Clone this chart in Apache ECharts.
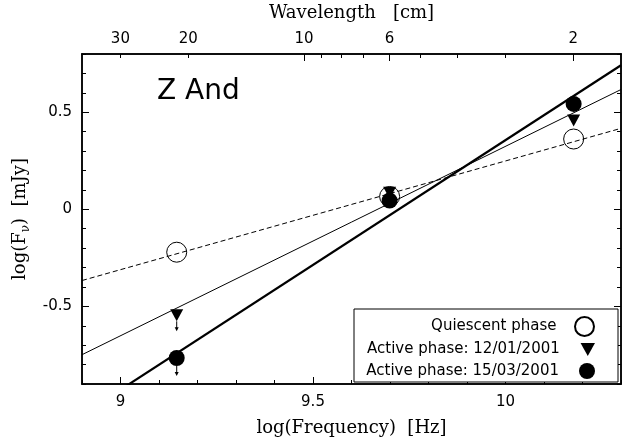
<!DOCTYPE html>
<html>
<head>
<meta charset="utf-8">
<script src="https://cdn.jsdelivr.net/npm/echarts@6/dist/echarts.min.js"></script>
<style>
html, body { margin: 0; padding: 0; background: #ffffff; }
#sed { width: 630px; height: 443px; }
</style>
</head>
<body>
<div id="sed"></div>
<script>
// log(frequency) of the three radio bands
var logFreq = [9.146, 9.699, 10.177]
// log flux for each phase
var quiescent = [-0.221, 0.066, 0.362]
var active1 = [-0.546, 0.085, 0.458]
var active2 = [-0.766, 0.045, 0.543]
// first point of the active phases is an upper limit
var limitIndex = [0]
// fitted power laws, values at both ends of the x range
var fitX = [8.9, 10.3]
var quiescentFit = [-0.367, 0.417]
var active1Fit = [-0.749, 0.617]
var active2Fit = [-1.058, 0.742]
// tick labels
var freqLabels = [9, 9.5, 10]
var fluxLabels = [-0.5, 0, 0.5]
var waveLabels = [30, 20, 10, 6, 2]
var waveMajor = [10, 6, 2]
var waveMinor = [30, 20, 9, 8, 7, 5, 4, 3]

// wavelength in cm -> log(frequency in Hz)
var C_LIGHT = 2.998e10
function waveToLogFreq(cm) {
  return Math.log10(C_LIGHT / cm)
}
function pairs(xs, ys) {
  return xs.map(function (x, i) { return [x, ys[i]] })
}

var SANS = 'DejaVu Sans'
var SERIF = 'DejaVu Serif'
var frame = { show: true, onZero: false, lineStyle: { color: '#000', width: 1.5 } }

var myChart = echarts.init(document.getElementById('sed'))

// small down arrows under the upper limits
function limitArrow(startOffset) {
  return function (params, api) {
    var p = api.coord([api.value(0), api.value(1)])
    var y0 = p[1] + startOffset
    var y1 = y0 + 9
    return {
      type: 'group',
      children: [
        { type: 'line', shape: { x1: p[0], y1: y0, x2: p[0], y2: y1 - 2 }, style: { stroke: '#000', lineWidth: 1 } },
        { type: 'polygon', shape: { points: [[p[0] - 2, y1 - 3], [p[0] + 2, y1 - 3], [p[0], y1 + 1]] }, style: { fill: '#000' } }
      ]
    }
  }
}

var legendBase = {
  orient: 'vertical',
  align: 'right',
  right: 30,
  itemWidth: 40,
  selectedMode: false,
  textStyle: { fontFamily: SANS, fontSize: 15, color: '#000', padding: [0, 3, 0, 0] }
}

myChart.setOption({
  animation: false,
  backgroundColor: '#fff',
  grid: { left: 82, right: 9, top: 54, bottom: 59, outerBoundsMode: 'none' },
  xAxis: [
    {
      type: 'value', position: 'bottom', min: 8.9, max: 10.3, interval: 0.1,
      axisLine: frame,
      axisTick: { inside: true, length: 4, lineStyle: { color: '#000' } },
      axisLabel: { customValues: freqLabels, margin: 11, fontFamily: SANS, fontSize: 15, color: '#000' },
      splitLine: { show: false },
      name: 'log(Frequency)  [Hz]', nameLocation: 'middle', nameGap: 35,
      nameTextStyle: { fontFamily: SERIF, fontSize: 18, color: '#000' }
    },
    {
      type: 'value', position: 'bottom', min: 8.9, max: 10.3,
      axisLine: frame,
      axisTick: { inside: true, length: 7, customValues: freqLabels, lineStyle: { color: '#000' } },
      axisLabel: { show: false },
      splitLine: { show: false }
    },
    {
      type: 'value', position: 'top', min: 8.9, max: 10.3,
      axisLine: frame,
      axisTick: { inside: true, length: 7, customValues: waveMajor.map(waveToLogFreq), lineStyle: { color: '#000' } },
      axisLabel: {
        customValues: waveLabels.map(waveToLogFreq), margin: 7,
        fontFamily: SANS, fontSize: 15, color: '#000',
        formatter: function (v) { return String(Math.round(C_LIGHT / Math.pow(10, v))) }
      },
      splitLine: { show: false },
      name: 'Wavelength   [cm]', nameLocation: 'middle', nameGap: 32,
      nameTextStyle: { fontFamily: SERIF, fontSize: 18, color: '#000' }
    },
    {
      type: 'value', position: 'top', min: 8.9, max: 10.3,
      axisLine: frame,
      axisTick: { inside: true, length: 4, customValues: waveMinor.map(waveToLogFreq), lineStyle: { color: '#000' } },
      axisLabel: { show: false },
      splitLine: { show: false }
    }
  ],
  yAxis: [
    {
      type: 'value', position: 'left', min: -0.9, max: 0.8, interval: 0.1,
      axisLine: frame,
      axisTick: { inside: true, length: 4, lineStyle: { color: '#000' } },
      axisLabel: { customValues: fluxLabels, margin: 10, fontFamily: SANS, fontSize: 15, color: '#000' },
      splitLine: { show: false },
      name: 'log(F{sub|ν})  [mJy]', nameLocation: 'middle', nameGap: 49, nameRotate: 90,
      nameTextStyle: {
        fontFamily: SERIF, fontSize: 18, color: '#000',
        rich: { sub: { fontFamily: SERIF, fontSize: 12, color: '#000', verticalAlign: 'bottom', lineHeight: 24 } }
      }
    },
    {
      type: 'value', position: 'left', min: -0.9, max: 0.8,
      axisLine: frame,
      axisTick: { inside: true, length: 7, customValues: fluxLabels, lineStyle: { color: '#000' } },
      axisLabel: { show: false },
      splitLine: { show: false }
    },
    {
      type: 'value', position: 'right', min: -0.9, max: 0.8, interval: 0.1,
      axisLine: frame,
      axisTick: { inside: true, length: 4, lineStyle: { color: '#000' } },
      axisLabel: { show: false },
      splitLine: { show: false }
    },
    {
      type: 'value', position: 'right', min: -0.9, max: 0.8,
      axisLine: frame,
      axisTick: { inside: true, length: 7, customValues: fluxLabels, lineStyle: { color: '#000' } },
      axisLabel: { show: false },
      splitLine: { show: false }
    }
  ],
  legend: [
    Object.assign({}, legendBase, { data: ['Quiescent phase'], top: 311, itemHeight: 19 }),
    Object.assign({}, legendBase, { data: ['Active phase: 12/01/2001'], top: 337, itemHeight: 13 }),
    Object.assign({}, legendBase, { data: ['Active phase: 15/03/2001'], top: 358, itemHeight: 16 })
  ],
  graphic: [
    // legend frame
    { type: 'rect', z: 3, shape: { x: 354, y: 309, width: 264, height: 73 }, style: { fill: '#fff', stroke: '#000', lineWidth: 1 } },
    { type: 'text', z: 5, style: { x: 157, y: 92, text: 'Z And', fontFamily: SANS, fontSize: 28, fill: '#000', verticalAlign: 'middle' } }
  ],
  series: [
    // fits
    {
      name: 'fit quiescent', type: 'line', data: pairs(fitX, quiescentFit), symbol: 'none',
      lineStyle: { color: '#000', width: 1, type: [5, 3] }, z: 1
    },
    {
      name: 'fit active 1', type: 'line', data: pairs(fitX, active1Fit), symbol: 'none',
      lineStyle: { color: '#000', width: 1 }, z: 1
    },
    {
      name: 'fit active 2', type: 'line', data: pairs(fitX, active2Fit), symbol: 'none', clip: true,
      lineStyle: { color: '#000', width: 2.2 }, z: 1
    },
    // measurements
    {
      name: 'Quiescent phase', type: 'scatter', data: pairs(logFreq, quiescent),
      symbol: 'circle', symbolSize: 20,
      itemStyle: { color: 'rgba(0,0,0,0)', borderColor: '#000', borderWidth: 1, opacity: 1 }
    },
    {
      name: 'Active phase: 12/01/2001', type: 'scatter', data: pairs(logFreq, active1),
      symbol: 'path://M0,0 L10,0 L5,9 Z', symbolSize: [13, 12],
      itemStyle: { color: '#000', opacity: 1 }
    },
    {
      name: 'Active phase: 15/03/2001', type: 'scatter', data: pairs(logFreq, active2),
      symbol: 'circle', symbolSize: 16,
      itemStyle: { color: '#000', opacity: 1 }
    },
    {
      name: 'limit 1', type: 'custom', renderItem: limitArrow(6),
      data: limitIndex.map(function (i) { return [logFreq[i], active1[i]] }), z: 3
    },
    {
      name: 'limit 2', type: 'custom', renderItem: limitArrow(8),
      data: limitIndex.map(function (i) { return [logFreq[i], active2[i]] }), z: 3
    }
  ]
})
</script>
</body>
</html>
